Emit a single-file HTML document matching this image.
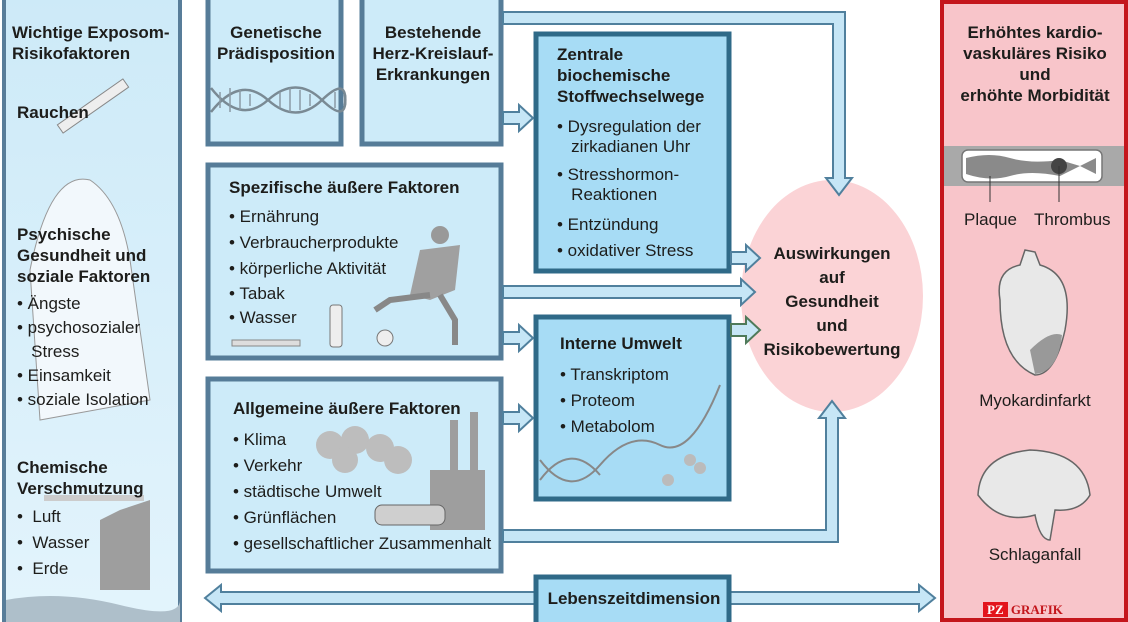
<!DOCTYPE html>
<html><head><meta charset="utf-8"><style>
body{margin:0;width:1128px;height:622px;position:relative;overflow:hidden;background:#fff;font-family:"Liberation Sans Narrow","Liberation Sans",sans-serif;color:#1d1d1b}
.a{position:absolute}
.t{font-weight:bold;font-size:17px;line-height:21px}
.b{font-size:17px;line-height:26px}
.c{text-align:center}
</style></head><body>
<svg class="a" style="left:0;top:0" width="1128" height="622">
<defs>
<linearGradient id="lg" x1="0" y1="0" x2="0" y2="1"><stop offset="0" stop-color="#cdeaf8"/><stop offset="1" stop-color="#e3f4fc"/></linearGradient>
</defs>
<rect x="4" y="-4" width="176" height="628" fill="url(#lg)" stroke="#587d99" stroke-width="4"/>
<path d="M6 600 Q60 590 120 605 T180 600 L180 622 L6 622Z" fill="#aebfca"/>
<rect x="942" y="2" width="184" height="618" fill="#f8c5ca" stroke="#c4161c" stroke-width="4"/>
<g stroke="#567c98" stroke-width="5" fill="#cdebf9">
<rect x="208" y="-4" width="133" height="148"/>
<rect x="362" y="-4" width="139" height="148"/>
<rect x="208" y="165" width="293" height="193"/>
<rect x="208" y="379" width="293" height="192"/>
</g>
<g stroke="#2f6a88" stroke-width="5" fill="#a7dcf5">
<rect x="536" y="34" width="193" height="237"/>
<rect x="536" y="317" width="193" height="182"/>
</g>
<ellipse cx="832" cy="296" rx="91" ry="116" fill="#fbd3d6"/>
<g fill="#c6e6f6" stroke="#50809d" stroke-width="2">
<polygon points="503,112 519,112 519,105 533,118 519,131 519,124 503,124"/>
<polygon points="731,252 746,252 746,245 760,258 746,271 746,264 731,264"/>
<polygon points="503,286 741,286 741,279 755,292 741,305 741,298 503,298"/>
<polygon points="503,332 519,332 519,325 533,338 519,351 519,344 503,344"/>
<polygon points="503,412 519,412 519,405 533,418 519,431 519,424 503,424"/>
<polygon points="503,12 845,12 845,178 852,178 839,195 826,178 833,178 833,24 503,24"/>
<polygon points="503,542 838,542 838,418 845,418 832,401 819,418 826,418 826,530 503,530"/>
<polygon points="205,598 221,585 221,592 919,592 919,585 935,598 919,611 919,604 221,604 221,611"/>
</g>
<polygon points="731,324 746,324 746,317 760,330 746,343 746,336 731,336" fill="#c6e6f6" stroke="#4f7a5a" stroke-width="2"/>
<rect x="536" y="577" width="193" height="50" fill="#a7dcf5" stroke="#2f6a88" stroke-width="5"/>
<g stroke="#7a8a94" stroke-width="2.5" fill="none">
<path d="M211 88 Q240 125 268 100 T322 100 T345 95"/>
<path d="M211 112 Q240 75 268 100 T322 100 T345 105"/>
</g>
<g stroke="#8a9aa4" stroke-width="1.5">
<line x1="220" y1="92" x2="220" y2="108"/><line x1="230" y1="88" x2="230" y2="112"/><line x1="240" y1="90" x2="240" y2="110"/><line x1="250" y1="94" x2="250" y2="106"/>
<line x1="280" y1="92" x2="280" y2="108"/><line x1="290" y1="88" x2="290" y2="112"/><line x1="300" y1="90" x2="300" y2="110"/><line x1="310" y1="94" x2="310" y2="106"/>
<line x1="335" y1="92" x2="335" y2="108"/>
</g>
<rect x="944" y="146" width="180" height="40" fill="#a9a9a9"/>
<rect x="962" y="150" width="140" height="32" rx="6" fill="#fff" stroke="#777" stroke-width="1.5"/>
<path d="M966 158 Q990 152 1010 158 T1060 160 L1080 166 L1096 158 L1096 174 L1080 166 L1060 176 Q1030 170 1010 176 T966 174Z" fill="#8a8a8a"/>
<circle cx="1059" cy="166" r="8" fill="#444"/>
<line x1="990" y1="176" x2="990" y2="202" stroke="#333"/><line x1="1059" y1="166" x2="1059" y2="202" stroke="#333"/>
<path d="M1000 300 Q995 270 1020 265 L1025 250 L1035 252 L1040 265 Q1075 275 1065 330 Q1055 375 1035 375 Q1000 360 1000 300Z" fill="#e8e8e8" stroke="#666" stroke-width="1.5"/>
<path d="M1030 350 Q1050 330 1062 335 Q1058 372 1035 374Z" fill="#999"/>
<path d="M978 495 Q980 455 1030 450 Q1085 452 1090 495 Q1080 512 1055 510 L1050 540 Q1040 540 1035 515 Q1000 525 978 495Z" fill="#e8e8e8" stroke="#666" stroke-width="1.5"/>
<g fill="#bdbdbd">
<circle cx="330" cy="445" r="14"/><circle cx="355" cy="440" r="14"/><circle cx="380" cy="448" r="14"/><circle cx="398" cy="460" r="14"/><circle cx="345" cy="460" r="13"/>
<rect x="430" y="470" width="55" height="60" fill="#9e9e9e"/><rect x="450" y="420" width="8" height="60" fill="#9e9e9e"/><rect x="470" y="412" width="8" height="60" fill="#9e9e9e"/>
<rect x="375" y="505" width="70" height="20" rx="7" fill="#cfcfcf" stroke="#666"/>
<circle cx="440" cy="235" r="9" fill="#999"/><path d="M420 250 L460 245 L455 290 L430 300 L410 295Z" fill="#a0a0a0"/>
<path d="M430 295 L390 300 L375 310" stroke="#888" stroke-width="6" fill="none"/><path d="M440 295 L455 320 L455 345" stroke="#888" stroke-width="6" fill="none"/>
<rect x="330" y="305" width="12" height="42" rx="3" fill="#eee" stroke="#777"/>
<circle cx="385" cy="338" r="8" fill="#eee" stroke="#777"/>
<rect x="232" y="340" width="68" height="6" fill="#ddd" stroke="#888"/>
<rect x="88" y="66" width="10" height="80" transform="rotate(55 93 106)" fill="#eee" stroke="#888"/>
<path d="M30 270 Q50 170 90 180 Q120 200 130 260 L150 400 L40 420Z" fill="#f2f8fc" stroke="#999"/>
<rect x="44" y="495" width="100" height="6" fill="#ccc"/><path d="M120 510 L150 500 L150 590 L100 590 L100 520Z" fill="#9e9e9e"/>
</g>
<g stroke="#888" stroke-width="2" fill="none"><path d="M540 460 Q570 500 600 465 T660 445 T720 385"/><path d="M540 480 Q570 440 600 475"/></g>
<g fill="#bbb"><circle cx="690" cy="460" r="6"/><circle cx="700" cy="468" r="6"/><circle cx="668" cy="480" r="6"/></g>
</svg>

<div class="a t" style="left:12px;top:22px">Wichtige Exposom-<br>Risikofaktoren</div>
<div class="a t" style="left:17px;top:102px">Rauchen</div>
<div class="a t" style="left:17px;top:224px">Psychische<br>Gesundheit und<br>soziale Faktoren</div>
<div class="a b" style="left:17px;top:292px;line-height:24px">• Ängste<br>• psychosozialer<br>&nbsp;&nbsp;&nbsp;Stress<br>• Einsamkeit<br>• soziale Isolation</div>
<div class="a t" style="left:17px;top:457px">Chemische<br>Verschmutzung</div>
<div class="a b" style="left:17px;top:504px">• &nbsp;Luft<br>• &nbsp;Wasser<br>• &nbsp;Erde</div>

<div class="a t c" style="left:208px;top:22px;width:136px">Genetische<br>Prädisposition</div>
<div class="a t c" style="left:362px;top:22px;width:142px">Bestehende<br>Herz-Kreislauf-<br>Erkrankungen</div>

<div class="a t" style="left:229px;top:177px">Spezifische äußere Faktoren</div>
<div class="a b" style="left:229px;top:204px">• Ernährung<br>• Verbraucherprodukte<br>• körperliche Aktivität</div>
<div class="a b" style="left:229px;top:282px;line-height:24px">• Tabak<br>• Wasser</div>

<div class="a t" style="left:233px;top:398px">Allgemeine äußere Faktoren</div>
<div class="a b" style="left:233px;top:427px">• Klima<br>• Verkehr<br>• städtische Umwelt<br>• Grünflächen<br>• gesellschaftlicher Zusammenhalt</div>

<div class="a t" style="left:557px;top:44px">Zentrale<br>biochemische<br>Stoffwechselwege</div>
<div class="a b" style="left:557px;top:117px;line-height:20px">• Dysregulation der<br>&nbsp;&nbsp;&nbsp;zirkadianen Uhr</div>
<div class="a b" style="left:557px;top:165px;line-height:20px">• Stresshormon-<br>&nbsp;&nbsp;&nbsp;Reaktionen</div>
<div class="a b" style="left:557px;top:212px">• Entzündung<br>• oxidativer Stress</div>

<div class="a t" style="left:560px;top:333px">Interne Umwelt</div>
<div class="a b" style="left:560px;top:362px">• Transkriptom<br>• Proteom<br>• Metabolom</div>

<div class="a t c" style="left:536px;top:588px;width:196px">Lebenszeitdimension</div>

<div class="a t c" style="left:742px;top:242px;width:180px;line-height:24px">Auswirkungen<br>auf<br>Gesundheit<br>und<br>Risikobewertung</div>

<div class="a t c" style="left:942px;top:22px;width:186px">Erhöhtes kardio-<br>vaskuläres Risiko<br>und<br>erhöhte Morbidität</div>
<div class="a b" style="left:964px;top:207px">Plaque</div>
<div class="a b" style="left:1034px;top:207px">Thrombus</div>
<div class="a b c" style="left:942px;top:388px;width:186px">Myokardinfarkt</div>
<div class="a b c" style="left:942px;top:542px;width:186px">Schlaganfall</div>
<div class="a" style="left:983px;top:602px;font-family:'Liberation Serif',serif;font-size:13px;font-weight:bold"><span style="background:#e3141c;color:#fff;padding:0 4px">PZ</span><span style="color:#c4161c"> GRAFIK</span></div>
</body></html>
